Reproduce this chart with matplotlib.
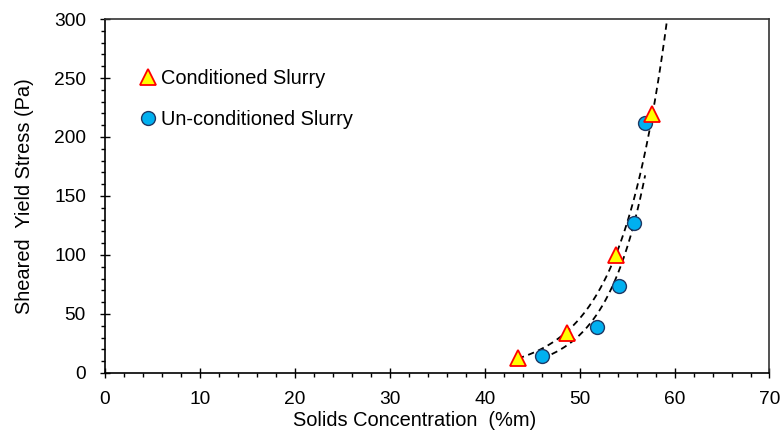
import numpy as np
import matplotlib
matplotlib.use("Agg")
import matplotlib.pyplot as plt
from matplotlib.ticker import MultipleLocator

plt.rcParams['font.family'] = ['Liberation Sans', 'DejaVu Sans']

# values
cond_x = [43.5, 48.7, 53.8, 57.6]
cond_y = [12.7, 33.8, 99.7, 219.8]
uncond_x = [46.0, 51.8, 54.1, 55.7, 56.9]
uncond_y = [14.4, 38.9, 73.5, 126.8, 212.0]

cond_label = "Conditioned Slurry"
uncond_label = "Un-conditioned Slurry"
x_label = "Solids Concentration  (%m)"
y_label = "Sheared  Yield Stress (Pa)"


def exp_trend(x, y, forward=0.0):
    """Excel-style exponential trendline"""
    b, ln_a = np.polyfit(x, np.log(y), 1)
    xs = np.linspace(min(x), max(x) + forward, 200)
    return xs, np.exp(ln_a + b * xs)


fig = plt.figure(figsize=(7.84, 4.30), dpi=100)
ax = fig.add_axes([0.1339, 0.1326, 0.8476, 0.8232])

dash = (0, (3.5, 2.5))
tx, ty = exp_trend(cond_x, cond_y, forward=2.0)
ax.plot(tx, ty, color='black', lw=1.3, linestyle=dash)
tx, ty = exp_trend(uncond_x, uncond_y)
ax.plot(tx, ty, color='black', lw=1.3, linestyle=dash)

ax.plot(uncond_x, uncond_y, linestyle='none', marker='o', markersize=10,
        markerfacecolor='#00B0F0', markeredgecolor='#1F3864', markeredgewidth=1.0,
        label=uncond_label, zorder=3)
ax.plot(cond_x, cond_y, linestyle='none', marker='^', markersize=12,
        markerfacecolor='#FFFF00', markeredgecolor='#FF0000', markeredgewidth=1.3,
        label=cond_label, zorder=4)

ax.set_xlim(0, 70)
ax.set_ylim(0, 300)
ax.xaxis.set_major_locator(MultipleLocator(10))
ax.xaxis.set_minor_locator(MultipleLocator(2))
ax.yaxis.set_major_locator(MultipleLocator(50))
ax.yaxis.set_minor_locator(MultipleLocator(10))
ax.tick_params(which='major', direction='inout', length=7.5, width=1.0, labelsize=13.8)
ax.tick_params(which='minor', direction='out', length=3.2, width=1.0)
ax.tick_params(axis='x', which='major', pad=9)
ax.tick_params(axis='y', which='major', pad=10)
for s in ax.spines.values():
    s.set_linewidth(1.2)
    s.set_color('#333333')
ax.spines['left'].set_color('black')
ax.spines['bottom'].set_color('black')

ax.set_xlabel(x_label, fontsize=14.4, labelpad=0)
ax.xaxis.set_label_coords(0.466, -0.108)
ax.set_ylabel(y_label, fontsize=14.4, labelpad=14)

handles, labels = ax.get_legend_handles_labels()
ax.legend(handles[::-1], labels[::-1], loc='upper left', frameon=False,
          bbox_to_anchor=(0.168, 0.857), bbox_transform=fig.transFigure,
          fontsize=14.4, handlelength=0.8, handletextpad=0.25, labelspacing=1.1,
          borderaxespad=0)

fig.savefig("out.png", dpi=100)
